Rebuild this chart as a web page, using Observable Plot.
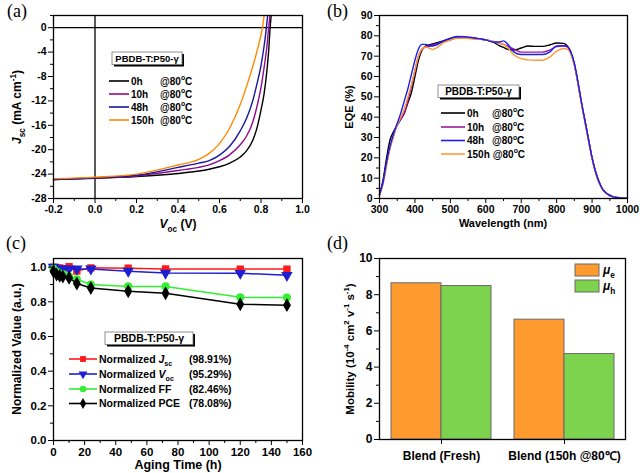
<!DOCTYPE html>
<html>
<head>
<meta charset="utf-8">
<script src="https://cdn.jsdelivr.net/npm/d3@7"></script>
<script src="https://cdn.jsdelivr.net/npm/@observablehq/plot@0.6"></script>
<style>
html,body{margin:0;padding:0;background:#fff;}
#root{position:relative;width:640px;height:473px;overflow:hidden;background:#fff;}
.panel{position:absolute;width:320px;}
.panel svg{display:block;overflow:visible;}
#overlay{position:absolute;left:0;top:0;pointer-events:none;}
</style>
</head>
<body>
<div id="root"></div>
<script>
const FONT = "'Liberation Sans', Arial, Helvetica, sans-serif";
const SERIF = "'Liberation Serif', 'Times New Roman', serif";

// ---------------- (a) J-V curves ----------------
const jvLabels = ["0h", "10h", "48h", "150h"];
const jvColors = ["#000000", "#8e0c8e", "#16169e", "#ff8a00"];
const jvV0   = [-0.2,0,0.2,0.4,0.5,0.55,0.6,0.65,0.7,0.73,0.76,0.78,0.8,0.815,0.828,0.837,0.844,0.849];
const jvJ0   = [-24.9,-24.7,-24.4,-23.9,-23.5,-23.2,-22.8,-22.2,-21.2,-20.2,-18.5,-16.5,-13.5,-10.8,-7.2,-3.8,0,2];
const jvV10  = [-0.2,0,0.2,0.4,0.5,0.55,0.6,0.65,0.7,0.73,0.76,0.78,0.8,0.815,0.828,0.837,0.843];
const jvJ10  = [-24.9,-24.65,-24.3,-23.4,-22.9,-22.5,-21.8,-20.8,-19.2,-17.8,-15.5,-13.0,-9.8,-6.5,-3.2,0,2];
const jvV48  = [-0.2,0,0.2,0.4,0.5,0.55,0.6,0.65,0.7,0.73,0.76,0.78,0.8,0.815,0.826,0.832];
const jvJ48  = [-24.9,-24.6,-24.2,-22.9,-22.2,-21.8,-20.9,-19.4,-16.9,-14.9,-12.0,-9.3,-6.2,-3.0,0,2];
const jvV150 = [-0.2,0,0.2,0.4,0.5,0.55,0.6,0.65,0.7,0.74,0.77,0.79,0.807,0.815];
const jvJ150 = [-24.75,-24.5,-24.0,-22.5,-21.6,-20.6,-19.0,-16.4,-12.6,-8.6,-5.2,-2.6,0,2];
const jvXTicks = [-0.2,0,0.2,0.4,0.6,0.8,1.0];
const jvXMinor = [-0.1,0.1,0.3,0.5,0.7,0.9];
const jvYTicks = [-28,-24,-20,-16,-12,-8,-4,0];
const jvYMinor = [-26,-22,-18,-14,-10,-6,-2,2];

// ---------------- (b) EQE spectra ----------------
const eqeLabels = ["0h", "10h", "48h", "150h"];
const eqeColors = ["#000000", "#9a1a9a", "#1c1cf0", "#ff9a3a"];
const wl = [300,310,320,330,340,350,360,370,380,390,400,410,420,430,440,450,460,480,500,520,540,560,580,600,620,640,650,660,680,700,720,740,760,780,800,820,830,840,850,860,870,880,890,900,910,920,930,945,960,980,1000];
const eqe0h   = [2,9,20,29,33,36,39,42,47,52,60,68,73,75,75.5,76,76.5,77.5,78.5,79.2,79,78.8,78.5,78,77,75,74.3,73.5,73,74,75,74.8,74.8,75.5,76.5,76.3,75,72,66,57,47,38,29,20,13,8,4.5,2,0.8,0.3,0.1];
const eqe10h  = [2,8,17,25,31,36,39,42,48,55,63,70,73.5,74.5,75,75.5,76,77,78,79,79,78.8,78.5,78,77.3,76.3,75.8,75,73.5,72,72,72,72,73,74.7,75,74.5,71.5,66,57,47,38,29,20,13,8,4.5,2,0.8,0.3,0.1];
const eqe48h  = [2,8,18,26,32,37,42,48,54,61,68,73.5,75.8,75.8,75,75,75.5,77.5,78.8,79.7,79.6,79.2,78.6,78,77,77,77.5,76.3,72,70.8,70.8,70.8,70.8,72,75,75.2,74.8,72,66.5,57.5,47.5,38,29,20,13,8,4.5,2,0.8,0.3,0.1];
const eqe150h = [1.5,7,16,25,31,36,40,44,50,56,63,70,73.5,74.5,74,73.3,74,76.5,78,78.8,78.8,78.5,78.3,78,77.3,76.3,75.8,74.5,70.5,68.8,68.2,68,68,69.5,72.5,73.8,73.5,71,65.5,56.5,46.5,37,28,19.5,12.5,7.5,4.3,1.9,0.8,0.3,0.1];
const eqeDrawOrder = ["0h", "10h", "150h", "48h"];
const eqeXTicks = [300,400,500,600,700,800,900,1000];
const eqeXMinor = [350,450,550,650,750,850,950];
const eqeYTicks = [0,10,20,30,40,50,60,70,80,90];
const eqeYMinor = [5,15,25,35,45,55,65,75,85];

// ---------------- (c) normalized parameters ----------------
const agingTime = [0,2,4,6,10,15,24,48,72,120,150];
const normJsc = [1.0,0.997,0.995,0.99,1.003,0.978,0.996,0.994,0.99,0.989,0.989];
const normVoc = [1.0,0.992,0.99,0.99,0.99,0.99,0.99,0.977,0.966,0.965,0.953];
const normFF  = [0.99,0.975,0.965,0.96,0.948,0.93,0.9,0.889,0.889,0.826,0.825];
const normPCE = [0.975,0.958,0.95,0.946,0.938,0.906,0.88,0.861,0.849,0.786,0.781];
const normKeys = ["Jsc", "Voc", "FF", "PCE"];
const normColors = ["#ff1a1a", "#1f1fd0", "#33ee33", "#000000"];
const normRetention = ["(98.91%)", "(95.29%)", "(82.46%)", "(78.08%)"];
const agXTicks = [0,20,40,60,80,100,120,140,160];
const agXMinor = [10,30,50,70,90,110,130,150];
const agYTicks = [0,0.2,0.4,0.6,0.8,1.0];
const agYMinor = [0.1,0.3,0.5,0.7,0.9];

// ---------------- (d) mobility ----------------
const mobCats = ["Blend (Fresh)", "Blend (150h @80\u2103)"];
const mobKeys = ["e", "h"];
const mobE = [8.63, 6.62];
const mobH = [8.48, 4.72];
const mobColors = ["#ff9a2e", "#7dd24e"];
const mobYTicks = [0,2,4,6,8,10];
const mobYMinor = [1,3,5,7,9];

// ================= build =================
const root = d3.select("#root");
function panel(left, top, svg) {
  const d = root.append("div").attr("class", "panel").style("left", left + "px").style("top", top + "px");
  d.node().appendChild(svg);
}
const baseStyle = (fs) => ({fontFamily: FONT, fontWeight: "bold", fontSize: fs, background: "transparent", color: "#000"});

// (a)
const jvVs = [jvV0, jvV10, jvV48, jvV150];
const jvJs = [jvJ0, jvJ10, jvJ48, jvJ150];
const jvData = jvLabels.flatMap((s, i) => jvVs[i].map((v, k) => ({s, v, j: jvJs[i][k]})));
panel(0, 0, Plot.plot({
  width: 320, height: 230, marginLeft: 53, marginRight: 18, marginTop: 15, marginBottom: 32,
  style: baseStyle("10.5px"),
  x: {domain: [-0.2, 1.0]},
  y: {domain: [-28, 2]},
  color: {domain: jvLabels, range: jvColors},
  marks: [
    Plot.ruleX([0], {stroke: "#000", strokeWidth: 1.3}),
    Plot.ruleY([0], {stroke: "#000", strokeWidth: 1.3}),
    Plot.line(jvData, {x: "v", y: "j", z: "s", stroke: "s", strokeWidth: 1.4, curve: "monotone-x"}),
    Plot.axisX({ticks: jvXTicks, tickSize: 5, tickPadding: 2, tickFormat: d => d.toFixed(1), label: null}),
    Plot.axisX({ticks: jvXMinor, tickSize: 3, fill: "none", label: null}),
    Plot.axisY({ticks: jvYTicks, tickSize: 5, tickPadding: 2, tickFormat: d => String(d), label: null}),
    Plot.axisY({ticks: jvYMinor, tickSize: 3, fill: "none", label: null}),
    Plot.frame({stroke: "#000", strokeWidth: 1.3})
  ]
}));

// (b)
const eqeArr = {"0h": eqe0h, "10h": eqe10h, "48h": eqe48h, "150h": eqe150h};
const eqeData = eqeDrawOrder.flatMap(s => wl.map((w, k) => ({s, w, e: eqeArr[s][k]})));
panel(320, 0, Plot.plot({
  width: 320, height: 230, marginLeft: 59, marginRight: 13, marginTop: 15, marginBottom: 32,
  style: baseStyle("10.5px"),
  x: {domain: [300, 1000]},
  y: {domain: [0, 90]},
  color: {domain: eqeLabels, range: eqeColors},
  marks: [
    Plot.line(eqeData, {x: "w", y: "e", z: "s", stroke: "s", strokeWidth: 1.4, curve: "monotone-x"}),
    Plot.axisX({ticks: eqeXTicks, tickSize: 5, tickPadding: 2, tickFormat: d => String(d), label: null}),
    Plot.axisX({ticks: eqeXMinor, tickSize: 3, fill: "none", label: null}),
    Plot.axisY({ticks: eqeYTicks, tickSize: 5, tickPadding: 2, tickFormat: d => String(d), label: null}),
    Plot.axisY({ticks: eqeYMinor, tickSize: 3, fill: "none", label: null}),
    Plot.frame({stroke: "#000", strokeWidth: 1.3})
  ]
}));

// (c)
const sqrt3 = Math.sqrt(3);
const triangleDown = {draw(ctx, size) {
  const y = -Math.sqrt(size / (sqrt3 * 3));
  ctx.moveTo(0, -y * 2); ctx.lineTo(-sqrt3 * y, y); ctx.lineTo(sqrt3 * y, y); ctx.closePath();
}};
const normSymbols = ["square", triangleDown, "circle", "diamond"];
const normVals = [normJsc, normVoc, normFF, normPCE];
const normData = normKeys.map((k, i) => agingTime.map((t, j) => ({k, t, v: normVals[i][j]})));
const cMarks = [];
normKeys.forEach((k, i) => {
  cMarks.push(Plot.line(normData[i], {x: "t", y: "v", stroke: normColors[i], strokeWidth: 1.5}));
  cMarks.push(Plot.dot(normData[i], {x: "t", y: "v", fill: normColors[i], stroke: normColors[i], r: 3.3, symbol: normSymbols[i]}));
});
panel(0, 230, Plot.plot({
  width: 320, height: 243, marginLeft: 53, marginRight: 18, marginTop: 28, marginBottom: 33,
  style: baseStyle("11.5px"),
  x: {domain: [0, 160]},
  y: {domain: [0, 1.05]},
  marks: [
    ...cMarks,
    Plot.axisX({ticks: agXTicks, tickSize: 5, tickPadding: 2, tickFormat: d => String(d), label: null}),
    Plot.axisX({ticks: agXMinor, tickSize: 3, fill: "none", label: null}),
    Plot.axisY({ticks: agYTicks, tickSize: 5, tickPadding: 2, tickFormat: d => d.toFixed(1), label: null}),
    Plot.axisY({ticks: agYMinor, tickSize: 3, fill: "none", label: null}),
    Plot.frame({stroke: "#000", strokeWidth: 1.3})
  ]
}));

// (d) grouped bars: each category band split into halves (μe left, μh right)
const dML = 59, dMR = 15, dMT = 28, dMB = 34;
const padIn = 0.187, padOut = 0.0935;
const halfBand = (320 - dML - dMR) / (2 - padIn + 2 * padOut) * (1 - padIn) / 2;
const mobEData = mobCats.map((c, i) => ({c, v: mobE[i]}));
const mobHData = mobCats.map((c, i) => ({c, v: mobH[i]}));
panel(320, 230, Plot.plot({
  width: 320, height: 243, marginLeft: dML, marginRight: dMR, marginTop: dMT, marginBottom: dMB,
  style: baseStyle("12px"),
  x: {domain: mobCats, paddingInner: padIn, paddingOuter: padOut},
  y: {domain: [0, 10]},
  marks: [
    Plot.barY(mobEData, {x: "c", y: "v", fill: mobColors[0], stroke: "#6a6a6a", strokeWidth: 1, insetLeft: 0, insetRight: halfBand}),
    Plot.barY(mobHData, {x: "c", y: "v", fill: mobColors[1], stroke: "#6a6a6a", strokeWidth: 1, insetLeft: halfBand, insetRight: 0}),
    Plot.axisX({tickSize: 5, tickPadding: 7, label: null}),
    Plot.axisY({ticks: mobYTicks, tickSize: 5, tickPadding: 2, tickFormat: d => String(d), label: null}),
    Plot.axisY({ticks: mobYMinor, tickSize: 3, fill: "none", label: null}),
    Plot.frame({stroke: "#000", strokeWidth: 1.3})
  ]
}));

// ================= overlay: titles, legends, labels =================
const overlay = root.append("svg").attr("id", "overlay").attr("width", 640).attr("height", 473);

function rich(x, y, parts, {size = 11, anchor = "start", rotate = 0, family = FONT, weight = "bold"} = {}) {
  const t = overlay.append("text").attr("font-size", size).attr("text-anchor", anchor)
    .attr("font-family", family).attr("font-weight", weight).attr("fill", "#000")
    .attr("transform", `translate(${x},${y})` + (rotate ? ` rotate(${rotate})` : ""));
  let shift = 0;
  for (const [s, k = ""] of parts) {
    const ts = t.append("tspan").text(s);
    const target = k.includes("sub") ? size * 0.3 : k.includes("sup") ? -size * 0.42 : 0;
    if (target !== shift) ts.attr("dy", target - shift);
    shift = target;
    if (k.includes("sub") || k.includes("sup")) ts.attr("font-size", size * 0.68);
    if (k.includes("it")) ts.attr("font-style", "italic");
  }
  return t;
}
function tagBox(x, y, w, h, size) {
  overlay.append("rect").attr("x", x + 2).attr("y", y + 2).attr("width", w).attr("height", h).attr("fill", "#000");
  overlay.append("rect").attr("x", x).attr("y", y).attr("width", w).attr("height", h)
    .attr("fill", "#fff").attr("stroke", "#777").attr("stroke-width", 0.8);
  rich(x + w / 2, y + h / 2 + size * 0.36, [["PBDB-T:P50-"], ["\u03b3"]], {size, anchor: "middle"});
}
const degParts = [["@80"], ["o", "sup"], ["C"]];

// panel letters
rich(7, 17, [["(a)"]], {size: 18, family: SERIF, weight: "normal"});
rich(327, 17, [["(b)"]], {size: 18, family: SERIF, weight: "normal"});
rich(6, 249, [["(c)"]], {size: 18, family: SERIF, weight: "normal"});
rich(327, 249, [["(d)"]], {size: 18, family: SERIF, weight: "normal"});

// axis titles
rich(21, 107, [["J", "it"], ["sc", "sub"], [" (mA cm"], ["-1", "sup"], [")"]], {size: 12, anchor: "middle", rotate: -90});
rich(178, 228, [["V", "it"], ["oc", "sub"], [" (V)"]], {size: 12, anchor: "middle"});
rich(353, 107, [["EQE (%)"]], {size: 11, anchor: "middle", rotate: -90});
rich(503, 227, [["Wavelength (nm)"]], {size: 11, anchor: "middle"});
rich(21, 349, [["Normalized Value (a.u.)"]], {size: 12, anchor: "middle", rotate: -90});
rich(178, 469, [["Aging Time (h)"]], {size: 12.5, anchor: "middle"});
rich(354, 349, [["Mobility (10"], ["-4", "sup"], [" cm"], ["2", "sup"], [" v"], ["-1", "sup"], [" s"], ["-1", "sup"], [")"]], {size: 11.5, anchor: "middle", rotate: -90});

// (a) legend
tagBox(112, 52, 70, 12.5, 9.5);
function hLegend(rows, colors, {x0, x1, tx, cx, ys, size}) {
  rows.forEach((lab, i) => {
    overlay.append("line").attr("x1", x0).attr("x2", x1).attr("y1", ys[i]).attr("y2", ys[i])
      .attr("stroke", colors[i]).attr("stroke-width", 1.6);
    const t = rich(tx, ys[i] + size * 0.36, [[lab]], {size});
    const len = t.node().getComputedTextLength();
    rich(Math.max(cx, tx + len + size * 0.3), ys[i] + size * 0.36, degParts, {size});
  });
}
hLegend(jvLabels, jvColors, {x0: 109, x1: 129, tx: 131, cx: 160, ys: [81, 94, 107, 120], size: 10});

// (b) legend
tagBox(438, 85, 81, 12.5, 10);
hLegend(eqeLabels, eqeColors, {x0: 441, x1: 465, tx: 467, cx: 492, ys: [113, 127, 140.5, 154], size: 10});

// (c) legend
tagBox(105, 332, 88, 12.5, 10.5);
const normLegendParts = [
  [["Normalized "], ["J", "it"], ["sc", "sub"]],
  [["Normalized "], ["V", "it"], ["oc", "sub"]],
  [["Normalized FF"]],
  [["Normalized PCE"]]
];
const cYs = [359, 374, 389, 403.5];
const symTypes = [d3.symbolSquare, triangleDown, d3.symbolCircle, d3.symbolDiamond];
normKeys.forEach((k, i) => {
  overlay.append("line").attr("x1", 69).attr("x2", 97).attr("y1", cYs[i]).attr("y2", cYs[i])
    .attr("stroke", normColors[i]).attr("stroke-width", 1.6);
  overlay.append("path").attr("d", d3.symbol(symTypes[i], Math.PI * 3.3 * 3.3)())
    .attr("transform", `translate(83,${cYs[i]})`).attr("fill", normColors[i]);
  const t = rich(99, cYs[i] + 10.5 * 0.36, normLegendParts[i], {size: 10.5});
  const len = t.node().getComputedTextLength();
  rich(Math.max(189, 99 + len + 3), cYs[i] + 10.5 * 0.36, [[normRetention[i]]], {size: 10.5});
});

// (d) legend
[["e", 264], ["h", 280]].forEach(([k, y], i) => {
  overlay.append("rect").attr("x", 575).attr("y", y).attr("width", 24).attr("height", 12)
    .attr("fill", mobColors[i]).attr("stroke", "#6a6a6a").attr("stroke-width", 1);
  rich(603, y + 10, [["\u03bc", "it"], [k, "sub"]], {size: 12});
});
</script>
</body>
</html>
